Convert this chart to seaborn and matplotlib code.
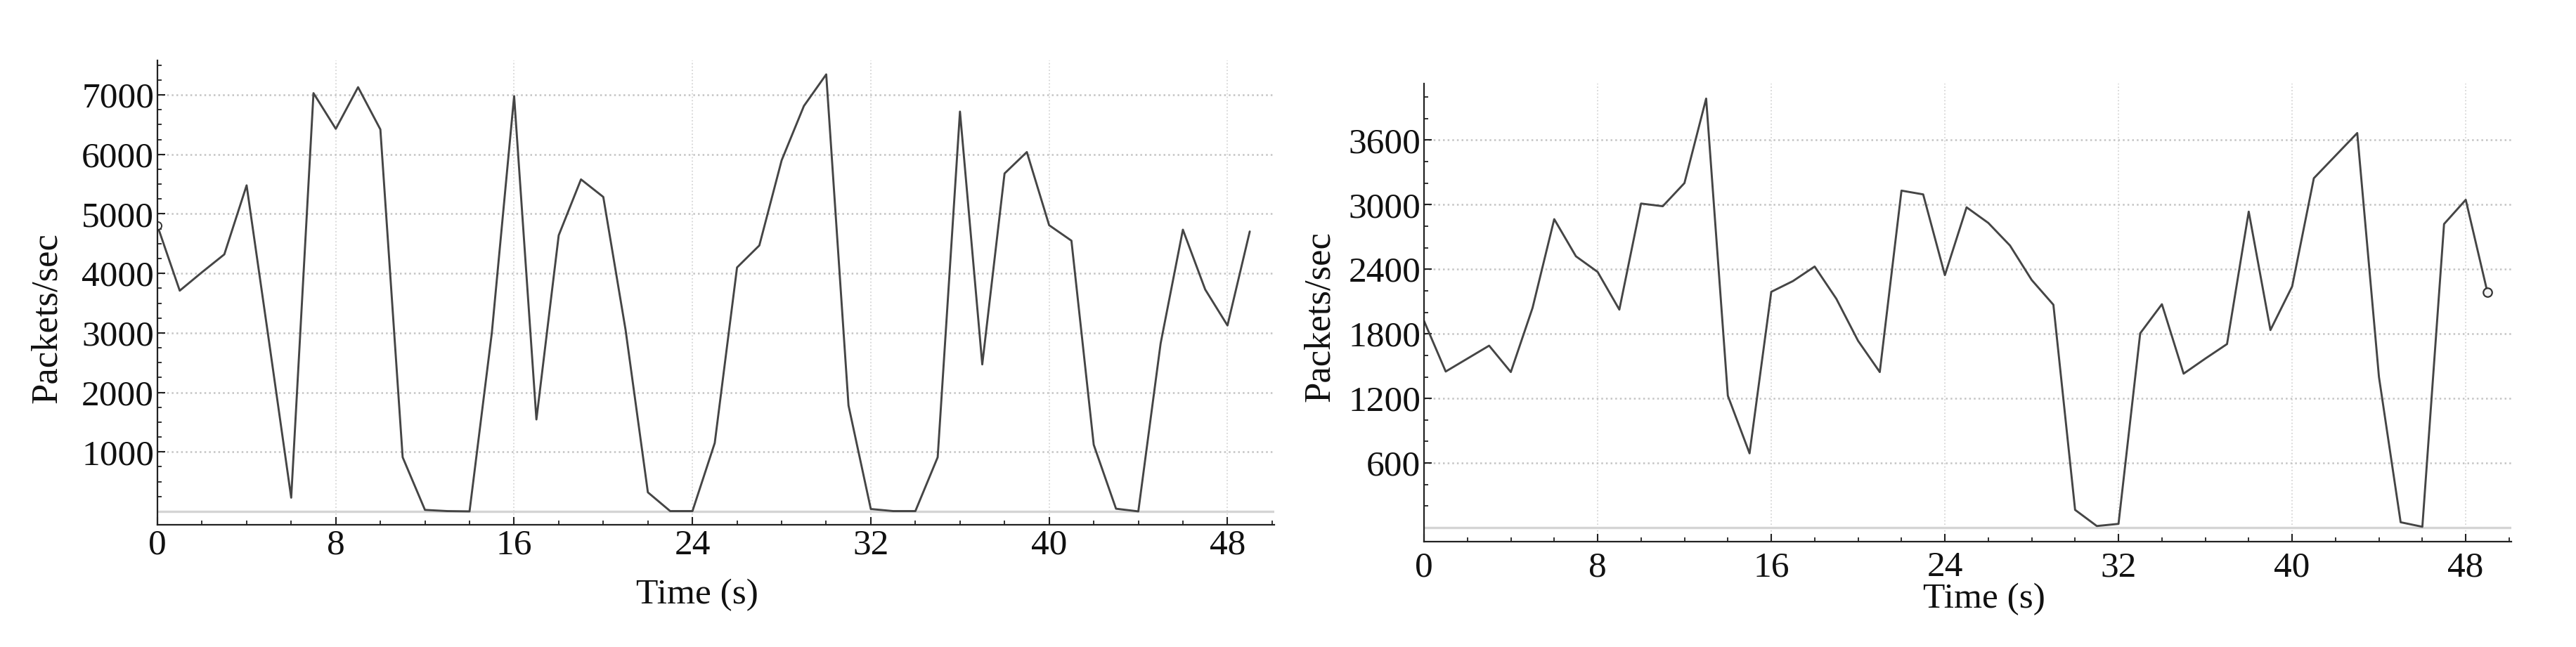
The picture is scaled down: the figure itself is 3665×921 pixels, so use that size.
import numpy as np
import pandas as pd
import seaborn as sns
import matplotlib
matplotlib.use("Agg")
import matplotlib.pyplot as plt
from matplotlib.ticker import MultipleLocator, FixedLocator

# time axis (s) shared by both traces
time_s = list(range(50))

# left trace: packets/sec
left_pps = [4800, 3710, 4020, 4320, 5480, 2870, 230, 7030, 6430, 7130,
            6420, 910, 25, 5, 0, 3000, 6980, 1545, 4640, 5580,
            5285, 3050, 320, 5, 5, 1150, 4100, 4470, 5900, 6815,
            7345, 1780, 40, 5, 5, 910, 6720, 2470, 5680, 6040,
            4810, 4550, 1120, 45, 0, 2820, 4735, 3730, 3125, 4705]

# right trace: packets/sec
right_pps = [1920, 1450, 1570, 1690, 1445, 2040, 2865, 2520, 2375, 2025,
             3010, 2985, 3200, 3985, 1225, 690, 2190, 2290, 2425, 2125,
             1735, 1445, 3130, 3095, 2345, 2975, 2830, 2620, 2300, 2070,
             165, 15, 35, 1805, 2075, 1430, 1570, 1705, 2935, 1835,
             2240, 3245, 3455, 3665, 1400, 50, 8, 2820, 3045, 2185]

x_ticks = [0, 8, 16, 24, 32, 40, 48]
left_yticks = [1000, 2000, 3000, 4000, 5000, 6000, 7000]
right_yticks = [600, 1200, 1800, 2400, 3000, 3600]

sns.set_style("ticks")
plt.rcParams["font.family"] = ["Liberation Serif", "DejaVu Serif"]
plt.rcParams["font.size"] = 37

LINE = "#454545"
W, H = 3666, 921
fig = plt.figure(figsize=(W / 100, H / 100), dpi=100)


def px_axes(x0, x1, ytop, ybot):
    return fig.add_axes([x0 / W, (H - ybot) / H, (x1 - x0) / W, (ybot - ytop) / H])


def style_axes(ax, yticks, ymin_step, ylim, xpad, xlab_xy, ylab_xy):
    ax.set_xlim(0, 50.1)
    ax.set_ylim(*ylim)
    ax.xaxis.set_major_locator(FixedLocator(x_ticks))
    ax.xaxis.set_minor_locator(MultipleLocator(2))
    ax.yaxis.set_major_locator(FixedLocator(yticks))
    ax.yaxis.set_minor_locator(MultipleLocator(ymin_step))
    ax.set_axisbelow(True)
    ax.grid(axis="y", which="major", linestyle=":", color="#c4c4c4", linewidth=1.8)
    ax.grid(axis="x", which="major", linestyle=":", color="#d6d6d6", linewidth=1.3)
    ax.axhline(0, color="#d4d4d4", linewidth=2.4, zorder=1)
    for side in ["top", "right"]:
        ax.spines[side].set_visible(False)
    for side in ["left", "bottom"]:
        ax.spines[side].set_color("#222222")
        ax.spines[side].set_linewidth(1.6)
    ax.tick_params(which="major", direction="in", length=8, width=1.5, color="#222222",
                   labelsize=37, labelcolor="#111111")
    ax.tick_params(which="minor", direction="in", length=4, width=1.3, color="#222222")
    ax.tick_params(axis="x", which="major", pad=xpad)
    ax.tick_params(axis="y", which="major", pad=3.5)
    ax.set_xlabel("Time (s)", fontsize=37, color="#111111")
    ax.set_ylabel("Packets/sec", fontsize=38, color="#111111")
    ax.xaxis.set_label_coords(*xlab_xy)
    ax.xaxis.label.set_verticalalignment("center")
    ax.yaxis.set_label_coords(*ylab_xy)
    ax.yaxis.label.set_verticalalignment("center")


# left panel
ax1 = px_axes(224, 1813, 86, 747)
df1 = pd.DataFrame({"t": time_s, "pps": left_pps})
sns.lineplot(data=df1, x="t", y="pps", ax=ax1, color=LINE, linewidth=2.1)
ax1.plot(df1["t"].iloc[0], df1["pps"].iloc[0], "o", ms=8, mfc="white",
         mec="#333333", mew=1.4)
style_axes(ax1, left_yticks, 250, (-225, 7580), 4.5,
           (0.483, -0.151), (-0.099, 0.445))

# right panel
ax2 = px_axes(2026, 3573, 119, 771)
df2 = pd.DataFrame({"t": time_s, "pps": right_pps})
sns.lineplot(data=df2, x="t", y="pps", ax=ax2, color=LINE, linewidth=2.1)
ax2.plot(df2["t"].iloc[-1], df2["pps"].iloc[-1], "o", ms=9, mfc="#f4f4f4",
         mec="#333333", mew=1.6)
style_axes(ax2, right_yticks, 200, (-130, 4124), 10,
           (0.515, -0.125), (-0.096, 0.492))

fig.savefig("out.png", dpi=100, facecolor="white")
